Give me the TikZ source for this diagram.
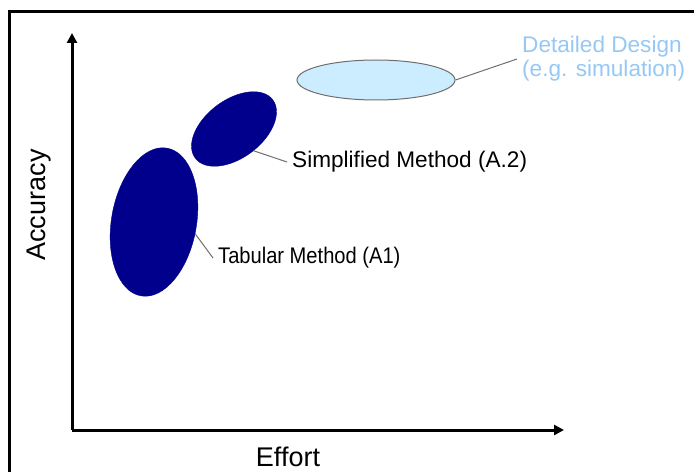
\documentclass[tikz,border=0pt]{standalone}
\usepackage{graphicx}
\usepackage{fontspec}
\setmainfont{Liberation Sans}
\usetikzlibrary{arrows.meta,shapes.geometric}

\definecolor{navyblob}{RGB}{0,0,140}
\definecolor{skyfill}{RGB}{204,236,255}
\definecolor{skytext}{RGB}{150,200,245}
\definecolor{leader}{RGB}{110,110,110}

\begin{document}
\begin{tikzpicture}[x=1pt,y=1pt,>={Triangle[length=10pt,width=10pt]},
  blob/.style={ellipse,inner sep=0pt,fill=navyblob,draw=navyblob},
  lbl/.style={font=\fontsize{22.6}{24}\selectfont,inner xsep=5pt,inner ysep=0pt,anchor=west},
  axislbl/.style={font=\fontsize{27}{30}\selectfont,anchor=base},
  leaderline/.style={draw=leader,line width=1pt}]
\useasboundingbox (0,0) rectangle (694,472);
% frame (only top and left edge fit on the page)
\draw [line width=3pt] (9,0) -- (9,460) -- (694,460);
% axes
\coordinate (O) at (72,42);
\coordinate (ytip) at (72,439);
\coordinate (xtip) at (564,42);
\draw [->,line width=3pt] (O) -- (ytip);
\draw [->,line width=3pt] (O) -- (xtip);
\node (effort) [axislbl] at (288,6) {Effort};
\node (accuracy) [axislbl,rotate=90] at (45,267) {Accuracy};
% the three methods
\node (detail) [ellipse,inner sep=0pt,draw=leader,fill=skyfill,line width=1pt,
  minimum width=158pt,minimum height=40pt] at (376,392) {};
\node (simple) [blob,minimum width=97pt,minimum height=58pt,rotate=37] at (234,343) {};
\node (tabular) [blob,minimum width=150pt,minimum height=85pt,rotate=80] at (154,250) {};
% labels
\node (detaillbl) [lbl,text=skytext,align=left] at (517,413) {Detailed Design\\(e.g. simulation)};
\node (simplelbl) [lbl] at (287,310) {Simplified Method (A.2)};
\node (tablbl) [lbl] at (213,214) {\scalebox{0.89}[1]{Tabular Method (A1)}};
\draw [leaderline] (detail.east) -- (detaillbl.west);
\draw [leaderline] (simple.-85) -- (simplelbl.west);
\draw [leaderline] (tabular.-96) -- (tablbl.west);
\end{tikzpicture}
\end{document}
